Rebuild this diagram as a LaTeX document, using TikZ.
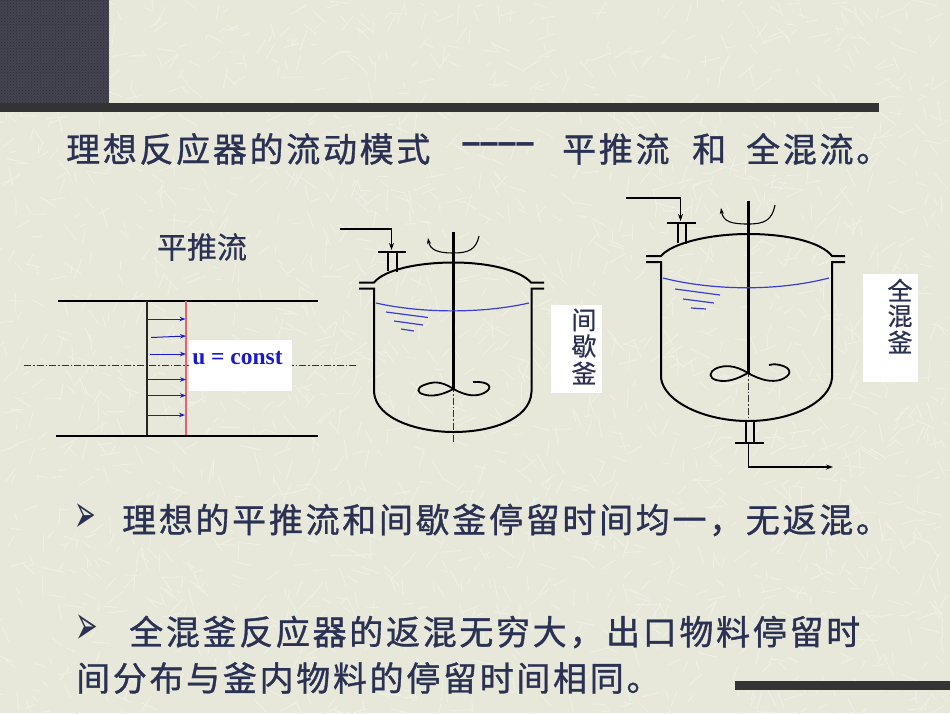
\documentclass[tikz,border=0pt]{standalone}
\usepackage{graphicx}
\usepackage{fontspec}
\usetikzlibrary{arrows.meta,patterns}
\newfontfamily\cjk[LetterSpace=7.9,FakeBold=1]{Noto Sans CJK SC}
\newfontfamily\cjkplain[FakeBold=0.6]{Noto Sans CJK SC}
\newfontfamily\dingfont{DejaVu Sans}
\newfontfamily\latinb{Liberation Serif Bold}
\newfontfamily\dashfont[LetterSpace=-6]{Liberation Serif Bold}
\definecolor{bgc}{HTML}{E7E8DA}
\definecolor{strk}{HTML}{EFF0E5}
\definecolor{ink}{HTML}{2A3153}
\definecolor{darkbar}{HTML}{333333}
\definecolor{sq}{HTML}{45454F}
\definecolor{sqdot}{HTML}{2C2C42}
\definecolor{flowblue}{HTML}{1A1ACC}
\definecolor{redline}{HTML}{E8606A}
\tikzset{
  body/.style={line width=2pt,black},
  thin part/.style={line width=1.5pt,black},
  lvl/.style={line width=1.2pt,color=flowblue!85!white},
  centre/.style={line width=0.9pt,black!80,dash pattern=on 7pt off 2pt on 1.5pt off 2pt},
  shaft/.style={line width=3pt,black},
  tip/.style={-{Stealth[length=7pt,width=5pt]}},
  speed/.style={line width=1pt,flowblue,-{Stealth[length=6pt,width=4.5pt]}},
  head/.style={font=\cjk\fontsize{34}{34}\selectfont,text=ink,anchor=west,inner sep=0pt},
  side/.style={font=\cjkplain\fontsize{25}{25}\selectfont,text=ink,inner sep=0pt,align=center},
  panel/.style={fill=white,draw=none},
  bullet/.style={font=\dingfont\fontsize{36}{36}\selectfont,text=ink,inner sep=0pt}
}
\begin{document}
\begin{tikzpicture}[x=1pt,y=-1pt]
\useasboundingbox (0,0) rectangle (950,713);
\begin{scope}
\clip (0,0) rectangle (950,713);
\fill[bgc] (0,0) rectangle (950,713);
\pgfmathsetseed{4711}
\foreach \i in {1,...,2200}{
  \pgfmathsetmacro\xa{rnd*950}
  \pgfmathsetmacro\ya{rnd*713}
  \pgfmathsetmacro\an{rnd*360}
  \pgfmathsetmacro\le{6+rnd*16}
  \draw[strk,line width=1pt] (\xa,\ya) -- ++(\an:\le);
}
\end{scope}
% corner block and rules
\fill[sq] (0,0) rectangle (109,103);
\fill[pattern=crosshatch dots,pattern color=sqdot] (0,0) rectangle (109,103);
\fill[darkbar] (0,103) rectangle (879,111.5);
\fill[darkbar] (735,681) rectangle (950,689.5);
% title
\node[head] (t1) at (66,149) {理想反应器的流动模式};
\node[text=ink,anchor=west,inner sep=0pt,font=\dashfont\fontsize{33}{33}\selectfont] (t2) at (460,149) {\scalebox{2}[1.3]{----}};
\node[head] (t3) at (562,149) {平推流};
\node[head] (t4) at (692,149) {和};
\node[head] (t5) at (746,149) {全混流。};
% plug flow
\node[font=\cjkplain\fontsize{30}{30}\selectfont,text=ink,inner sep=0pt] (pf) at (202,247) {平推流};
\draw[centre] (24,365.5) -- (357,365.5);
\draw[body] (58,300.5) -- (318,300.5);
\draw[body] (56,435.5) -- (318,435.5);
\draw[line width=1.2pt,black!85] (147,301) -- (147,435);
\draw[line width=1.5pt,redline] (186,301) -- (186,435);
\draw[speed] (147,319) -- (185.5,319);
\draw[speed] (151,337.5) -- (186,336);
\draw[speed] (150,354) -- (186,354);
\draw[speed] (147,379.5) -- (186,379.5);
\draw[speed] (148,395.5) -- (186,395.5);
\draw[speed] (146,415) -- (185,415);
\fill[panel] (189,340) rectangle (292,391);
\node[font=\latinb\fontsize{23.5}{23.5}\selectfont,text=flowblue,inner sep=0pt] (uc) at (237.5,358) {u = const};
% batch reactor
\draw[centre] (453.5,385) -- (453.5,442);
\draw[body] (359,282.5) -- (374,282.5) .. controls (385,269) and (420,262.5) .. (453.5,262.5) .. controls (488,262.5) and (520,270) .. (531,282.5) -- (544,282.5);
\draw[body] (359,288.5) -- (374,288.5) -- (374,392) .. controls (376,420) and (420,432) .. (453.5,432) .. controls (490,432) and (530,420) .. (531.5,392) -- (531.5,288.5) -- (544,288.5);
\draw[shaft] (453.5,232) -- (453.5,389);
\draw[thin part] (388,253) -- (388,271);
\draw[thin part] (397,253) -- (397,272);
\draw[thin part] (378,252) -- (406,252);
\draw[thin part,line width=1.1pt,tip] (340,229) -- (391.5,229) -- (391.5,250);
\draw[thin part,line width=1.1pt,-{Stealth[length=6pt,width=4pt]}] (479,236) .. controls (476,250) and (468,253) .. (453,253) .. controls (438,253) and (430,250) .. (428,238);
\draw[lvl] (376,303) .. controls (420,313) and (480,314) .. (529,303);
\draw[lvl] (386,312) -- (428,317.5);
\draw[lvl] (394,321) -- (423,325);
\draw[lvl] (401,329) -- (414,331);
\draw[line width=1.8pt,black] (453.5,389) .. controls (440,380) and (432,382) .. (424,385) .. controls (416,388) and (417,393) .. (424,394.5) .. controls (432,397) and (442,395) .. (453.5,389) .. controls (466,396) and (476,397) .. (484,393) .. controls (494,388) and (490,381) .. (473,382);
\fill[panel] (551,305) rectangle (602,393);
\node[side,anchor=center] (n1) at (584,320) {间};
\node[side,anchor=center] (n2) at (584,346) {歇};
\node[side,anchor=center] (n3) at (584,373) {釜};
% mixed reactor
\draw[centre] (748,370) -- (748,420);
\draw[body] (646,256) -- (661,256) .. controls (672,243) and (710,234) .. (748,234) .. controls (790,234) and (822,243) .. (832,256) -- (845,256);
\draw[body] (646,262) -- (661,262) -- (661,378) .. controls (664,402) and (705,421) .. (748,421) .. controls (792,421) and (830,402) .. (832,378) -- (832,262) -- (845,262);
\draw[shaft] (748,201) -- (748,373);
\draw[thin part] (678,223) -- (678,243);
\draw[thin part] (686,223) -- (686,244);
\draw[thin part] (667,223) -- (696,223);
\draw[thin part,line width=1.1pt,tip] (626,198) -- (680.5,198) -- (680.5,221);
\draw[thin part,line width=1.1pt,-{Stealth[length=6pt,width=4pt]}] (775,205) .. controls (772,220) and (765,224) .. (748,224) .. controls (732,224) and (723,222) .. (721,208);
\draw[lvl] (663,278) .. controls (710,290) and (775,292) .. (829,278);
\draw[lvl] (675,289) -- (720,295);
\draw[lvl] (683,299) -- (714,303);
\draw[lvl] (691,308) -- (706,309);
\draw[line width=1.8pt,black] (748,373) .. controls (735,365) and (725,365) .. (717,368) .. controls (708,372) and (709,378) .. (716,380) .. controls (727,383) and (737,379) .. (748,373) .. controls (762,381) and (772,382) .. (780,380) .. controls (792,376) and (793,368) .. (780,365) .. controls (775,364) and (772,364) .. (769,365);
\draw[thin part] (746,421) -- (746,443);
\draw[thin part] (754,421) -- (754,443);
\draw[thin part] (735,443) -- (764,443);
\draw[thin part,line width=1.1pt,tip] (748.5,443) -- (748.5,467) -- (833,467);
\fill[panel] (863,274) rectangle (918,382);
\node[side,anchor=center] (m1) at (900,290) {全};
\node[side,anchor=center] (m2) at (900,316) {混};
\node[side,anchor=center] (m3) at (900,342) {釜};
% bullets
\node[bullet] (b1) at (85,518) {\scalebox{0.72}[1.5]{➢}};
\node[head] (l1) at (122,520) {理想的平推流和间歇釜停留时间均一，无返混。};
\node[bullet] (b2) at (87,630) {\scalebox{0.75}[1.55]{➢}};
\node[head] (l2) at (129,632) {全混釜反应器的返混无穷大，出口物料停留时};
\node[head] (l3) at (76,678) {间分布与釜内物料的停留时间相同。};
\end{tikzpicture}
\end{document}
